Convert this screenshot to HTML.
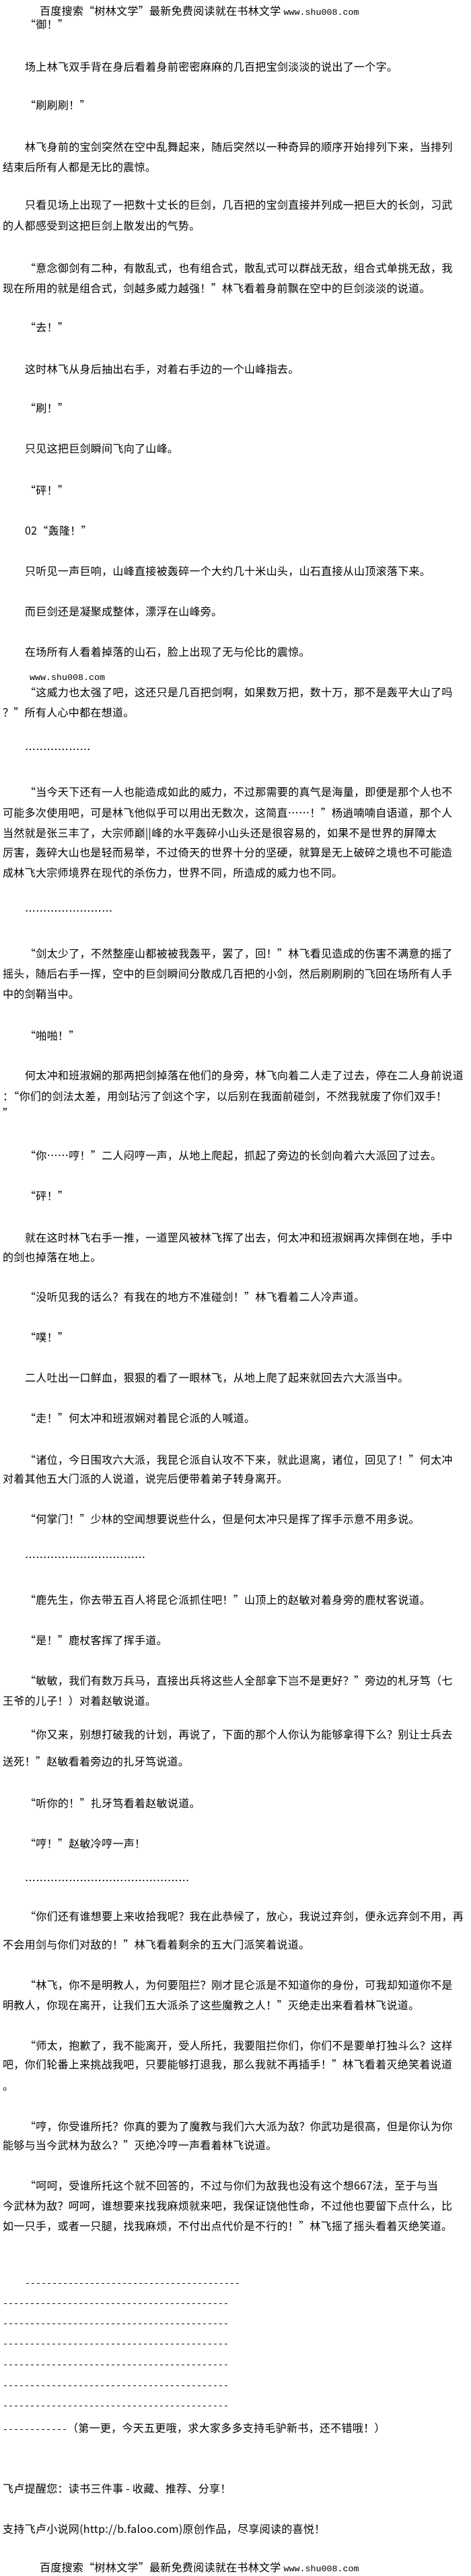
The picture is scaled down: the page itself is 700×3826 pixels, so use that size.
<!DOCTYPE html>
<html><head><meta charset="utf-8">
<style>
html,body{margin:0;padding:0;background:#fff;}
body{width:700px;height:3824px;position:relative;overflow:hidden;}
.l{position:absolute;left:4px;white-space:nowrap;font-size:16px;line-height:18px;height:18px;letter-spacing:0.3px;color:#000;font-family:"Noto Sans CJK SC","Liberation Sans",sans-serif;}
.i{left:37px;}
.h{left:59px;}
.m{font-family:"Liberation Mono",monospace;font-size:13.33px;letter-spacing:0;}
.d{font-family:"Liberation Mono",monospace;font-size:13.33px;letter-spacing:0;}
</style></head><body>
<div class="l h" style="top:6px">百度搜索“树林文学”最新免费阅读就在书林文学 <span class="m">www.shu008.com</span></div>
<div class="l i" style="top:26px">“御！”</div>
<div class="l i" style="top:89px">场上林飞双手背在身后看着身前密密麻麻的几百把宝剑淡淡的说出了一个字。</div>
<div class="l i" style="top:146px">“刷刷刷！”</div>
<div class="l i" style="top:208px">林飞身前的宝剑突然在空中乱舞起来，随后突然以一种奇异的顺序开始排列下来，当排列</div>
<div class="l" style="top:238px">结束后所有人都是无比的震惊。</div>
<div class="l i" style="top:294px">只看见场上出现了一把数十丈长的巨剑，几百把的宝剑直接并列成一把巨大的长剑，习武</div>
<div class="l" style="top:325px">的人都感受到这把巨剑上散发出的气势。</div>
<div class="l i" style="top:388px">“意念御剑有二种，有散乱式，也有组合式，散乱式可以群战无敌，组合式单挑无敌，我</div>
<div class="l" style="top:418px">现在所用的就是组合式，剑越多威力越强！”林飞看着身前飘在空中的巨剑淡淡的说道。</div>
<div class="l i" style="top:476px">“去！”</div>
<div class="l i" style="top:538px">这时林飞从身后抽出右手，对着右手边的一个山峰指去。</div>
<div class="l i" style="top:596px">“刷！”</div>
<div class="l i" style="top:656px">只见这把巨剑瞬间飞向了山峰。</div>
<div class="l i" style="top:718px">“砰！”</div>
<div class="l i" style="top:778px">02“轰隆！”</div>
<div class="l i" style="top:838px">只听见一声巨响，山峰直接被轰碎一个大约几十米山头，山石直接从山顶滚落下来。</div>
<div class="l i" style="top:898px">而巨剑还是凝聚成整体，漂浮在山峰旁。</div>
<div class="l i" style="top:958px">在场所有人看着掉落的山石，脸上出现了无与伦比的震惊。</div>
<div class="l m" style="top:999px;left:44px">www.shu008.com</div>
<div class="l i" style="top:1018px">“这威力也太强了吧，这还只是几百把剑啊，如果数万把，数十万，那不是轰平大山了吗</div>
<div class="l" style="top:1048px">？”所有人心中都在想道。</div>
<div class="l i" style="top:1103px">………………</div>
<div class="l i" style="top:1166px">“当今天下还有一人也能造成如此的威力，不过那需要的真气是海量，即便是那个人也不</div>
<div class="l" style="top:1197px">可能多次使用吧，可是林飞他似乎可以用出无数次，这简直……！”杨逍喃喃自语道，那个人</div>
<div class="l" style="top:1227px">当然就是张三丰了，大宗师巅||峰的水平轰碎小山头还是很容易的，如果不是世界的屏障太</div>
<div class="l" style="top:1256px">厉害，轰碎大山也是轻而易举，不过倚天的世界十分的坚硬，就算是无上破碎之境也不可能造</div>
<div class="l" style="top:1286px">成林飞大宗师境界在现代的杀伤力，世界不同，所造成的威力也不同。</div>
<div class="l i" style="top:1343px">……………………</div>
<div class="l i" style="top:1406px">“剑太少了，不然整座山都被被我轰平，罢了，回！”林飞看见造成的伤害不满意的摇了</div>
<div class="l" style="top:1436px">摇头，随后右手一挥，空中的巨剑瞬间分散成几百把的小剑，然后刷刷刷的飞回在场所有人手</div>
<div class="l" style="top:1466px">中的剑鞘当中。</div>
<div class="l i" style="top:1528px">“啪啪！”</div>
<div class="l i" style="top:1587px">何太冲和班淑娴的那两把剑掉落在他们的身旁，林飞向着二人走了过去，停在二人身前说道</div>
<div class="l" style="top:1618px">：“你们的剑法太差，用剑玷污了剑这个字，以后别在我面前碰剑，不然我就废了你们双手！</div>
<div class="l" style="top:1643px">”</div>
<div class="l i" style="top:1706px">“你……哼！”二人闷哼一声，从地上爬起，抓起了旁边的长剑向着六大派回了过去。</div>
<div class="l i" style="top:1766px">“砰！”</div>
<div class="l i" style="top:1828px">就在这时林飞右手一推，一道罡风被林飞挥了出去，何太冲和班淑娴再次摔倒在地，手中</div>
<div class="l" style="top:1857px">的剑也掉落在地上。</div>
<div class="l i" style="top:1916px">“没听见我的话么？有我在的地方不准碰剑！”林飞看着二人冷声道。</div>
<div class="l i" style="top:1976px">“噗！”</div>
<div class="l i" style="top:2036px">二人吐出一口鲜血，狠狠的看了一眼林飞，从地上爬了起来就回去六大派当中。</div>
<div class="l i" style="top:2096px">“走！”何太冲和班淑娴对着昆仑派的人喊道。</div>
<div class="l i" style="top:2158px">“诸位，今日围攻六大派，我昆仑派自认攻不下来，就此退离，诸位，回见了！”何太冲</div>
<div class="l" style="top:2186px">对着其他五大门派的人说道，说完后便带着弟子转身离开。</div>
<div class="l i" style="top:2246px">“何掌门！”少林的空闻想要说些什么，但是何太冲只是挥了挥手示意不用多说。</div>
<div class="l i" style="top:2303px">……………………………</div>
<div class="l i" style="top:2366px">“鹿先生，你去带五百人将昆仑派抓住吧！”山顶上的赵敏对着身旁的鹿杖客说道。</div>
<div class="l i" style="top:2426px">“是！”鹿杖客挥了挥手道。</div>
<div class="l i" style="top:2486px">“敏敏，我们有数万兵马，直接出兵将这些人全部拿下岂不是更好？”旁边的札牙笃（七</div>
<div class="l" style="top:2516px">王爷的儿子！）对着赵敏说道。</div>
<div class="l i" style="top:2566px">“你又来，别想打破我的计划，再说了，下面的那个人你认为能够拿得下么？别让士兵去</div>
<div class="l" style="top:2606px">送死！”赵敏看着旁边的扎牙笃说道。</div>
<div class="l i" style="top:2668px">“听你的！”扎牙笃看着赵敏说道。</div>
<div class="l i" style="top:2728px">“哼！”赵敏冷哼一声！</div>
<div class="l i" style="top:2783px">………………………………………</div>
<div class="l i" style="top:2836px">“你们还有谁想要上来收拾我呢？我在此恭候了，放心，我说过弃剑，便永远弃剑不用，再</div>
<div class="l" style="top:2878px">不会用剑与你们对敌的！”林飞看着剩余的五大门派笑着说道。</div>
<div class="l i" style="top:2938px">“林飞，你不是明教人，为何要阻拦？刚才昆仑派是不知道你的身份，可我却知道你不是</div>
<div class="l" style="top:2968px">明教人，你现在离开，让我们五大派杀了这些魔教之人！”灭绝走出来看着林飞说道。</div>
<div class="l i" style="top:3028px">“师太，抱歉了，我不能离开，受人所托，我要阻拦你们，你们不是要单打独斗么？这样</div>
<div class="l" style="top:3056px">吧，你们轮番上来挑战我吧，只要能够打退我，那么我就不再插手！”林飞看着灭绝笑着说道</div>
<div class="l" style="top:3088px">。</div>
<div class="l i" style="top:3148px">“哼，你受谁所托？你真的要为了魔教与我们六大派为敌？你武功是很高，但是你认为你</div>
<div class="l" style="top:3176px">能够与当今武林为敌么？”灭绝冷哼一声看着林飞说道。</div>
<div class="l i" style="top:3236px">“呵呵，受谁所托这个就不回答的，不过与你们为敌我也没有这个想667法，至于与当</div>
<div class="l" style="top:3266px">今武林为敌？呵呵，谁想要来找我麻烦就来吧，我保证饶他性命，不过他也要留下点什么，比</div>
<div class="l" style="top:3296px">如一只手，或者一只腿，找我麻烦，不付出点代价是不行的！”林飞摇了摇头看着灭绝笑道。</div>
<div class="l i d" style="top:3384px">----------------------------------------</div>
<div class="l d" style="top:3414px">------------------------------------------</div>
<div class="l d" style="top:3444px">------------------------------------------</div>
<div class="l d" style="top:3474px">------------------------------------------</div>
<div class="l d" style="top:3505px">------------------------------------------</div>
<div class="l d" style="top:3536px">------------------------------------------</div>
<div class="l d" style="top:3566px">------------------------------------------</div>
<div class="l" style="top:3596px"><span class="d">------------</span>（第一更，今天五更哦，求大家多多支持毛驴新书，还不错哦！）</div>
<div class="l" style="top:3686px">飞卢提醒您：读书三件事 - 收藏、推荐、分享！</div>
<div class="l" style="top:3746px">支持飞卢小说网(http://b.faloo.com)原创作品，尽享阅读的喜悦！</div>
<div class="l h" style="top:3803px">百度搜索“树林文学”最新免费阅读就在书林文学 <span class="m">www.shu008.com</span></div>
</body></html>
